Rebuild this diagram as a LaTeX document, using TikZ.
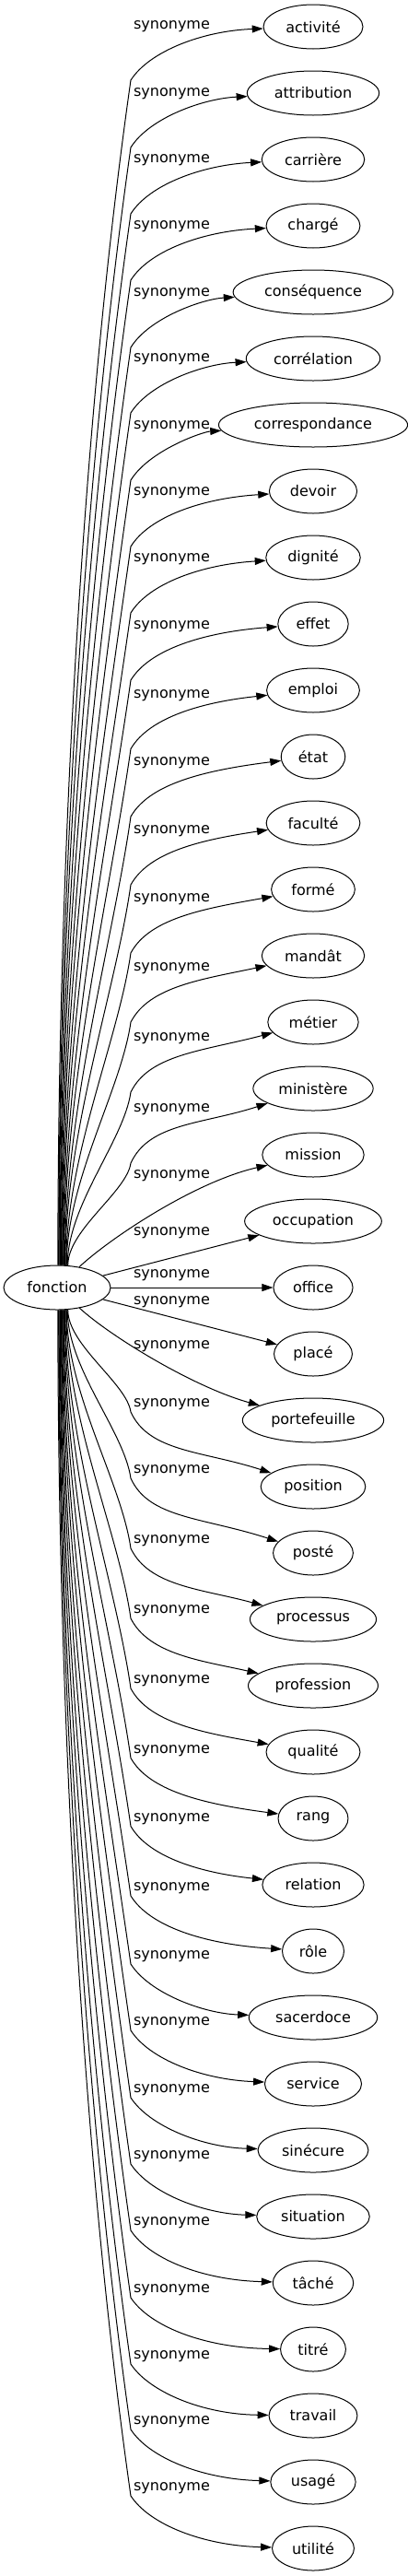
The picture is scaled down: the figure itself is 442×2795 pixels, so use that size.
\documentclass[tikz,border=0pt]{standalone}
\usepackage{fontspec}
\setmainfont{DejaVu Sans}
\usetikzlibrary{arrows.meta,shapes.geometric}
\begin{document}
\begin{tikzpicture}[x=1pt,y=-1pt,
  every node/.style={font=\fontsize{16}{19}\selectfont},
  word/.style={draw, ellipse, line width=1pt, inner xsep=8.5pt, inner ysep=0pt, minimum height=48pt},
  lab/.style={inner sep=0pt},
  edge/.style={draw, line width=1pt, -{Triangle[length=12pt,width=8pt]}}]
\useasboundingbox (0,0) rectangle (442,2795);
\node[word] (f) at (62,1397) {fonction};
\foreach \w [count=\n from 0] in {activité,attribution,carrière,chargé,conséquence,corrélation,correspondance,devoir,dignité,effet,emploi,état,faculté,formé,mandât,métier,ministère,mission,occupation,office,placé,portefeuille,position,posté,processus,profession,qualité,rang,relation,rôle,sacerdoce,service,sinécure,situation,tâché,titré,travail,usagé,utilité}{
  \node[word] (t\n) at (340,{29+72*\n}) {\w};
}
\foreach \ly [count=\n from 0] in {29,102,174,246,319,390,463,535,607,680,754.5,828,902,976,1051,1127,1204,1276,1338,1384,1413,1461,1524,1596,1672,1748,1824,1899.5,1973.5,2049,2123,2195,2268,2340,2412,2485,2557,2628,2700}{
  \node[lab] (l\n) at (186.5,\ly) {synonyme};
}
% upper edges
\foreach \i/\ly in {0/29,1/102,2/174,3/246,4/319,5/390,6/463,7/535,8/607,9/680,10/754.5,11/828,12/902,13/976,14/1051,15/1127,16/1204}{
  \pgfmathsetmacro\ty{29+72*\i}
  \pgfmathsetmacro\ky{\ly+58}
  \pgfmathsetmacro\ad{\ky-\ty}
  \pgfmathsetmacro\ff{3+1.5*(\ad-57)}
  \pgfmathtruncatemacro\ang{88-1.5*\i}
  \pgfmathsetmacro\rr{1392/sqrt((24*cos(\ang))^2+(58*sin(\ang))^2)}
  \pgfmathsetmacro\xs{62+\rr*cos(\ang)}
  \pgfmathsetmacro\ys{1397-\rr*sin(\ang)}
  \pgfmathsetmacro\h{\ys-\ky}
  \draw[edge] (f.\ang) .. controls (\xs,{\ys-0.35*\h}) and ({142-0.04*\h},{\ky+0.28*\h}) .. (142,\ky)
     .. controls (162,{\ky-0.54*\ad}) and (220,{\ty+\ff}) .. (t\i);
}
% middle edges
\draw[edge] (f) .. controls (120,1343) and (212,1282) .. (t17);
\draw[edge] (f) -- (t18);
\draw[edge] (f) -- (t19);
\draw[edge] (f) -- (t20);
\draw[edge] (f) .. controls (120,1450) and (210,1505) .. (t21);
% lower edges
\foreach \i/\ly in {22/1524,23/1596,24/1672,25/1748,26/1824,27/1899.5,28/1973.5,29/2049,30/2123,31/2195,32/2268,33/2340,34/2412,35/2485,36/2557,37/2628,38/2700}{
  \pgfmathsetmacro\ty{29+72*\i}
  \pgfmathsetmacro\ky{\ly+8}
  \pgfmathsetmacro\ad{\ty-\ky}
  \pgfmathsetmacro\ff{3+1.5*(\ad-57)}
  \pgfmathtruncatemacro\ang{-88+1.5*(38-\i)}
  \pgfmathsetmacro\rr{1392/sqrt((24*cos(\ang))^2+(58*sin(\ang))^2)}
  \pgfmathsetmacro\xs{62+\rr*cos(\ang)}
  \pgfmathsetmacro\ys{1397-\rr*sin(\ang)}
  \pgfmathsetmacro\h{\ky-\ys}
  \draw[edge] (f.\ang) .. controls (\xs,{\ys+0.35*\h}) and ({142-0.04*\h},{\ky-0.28*\h}) .. (142,\ky)
     .. controls (162,{\ky+0.54*\ad}) and (220,{\ty-\ff}) .. (t\i);
}
\end{tikzpicture}
\end{document}
